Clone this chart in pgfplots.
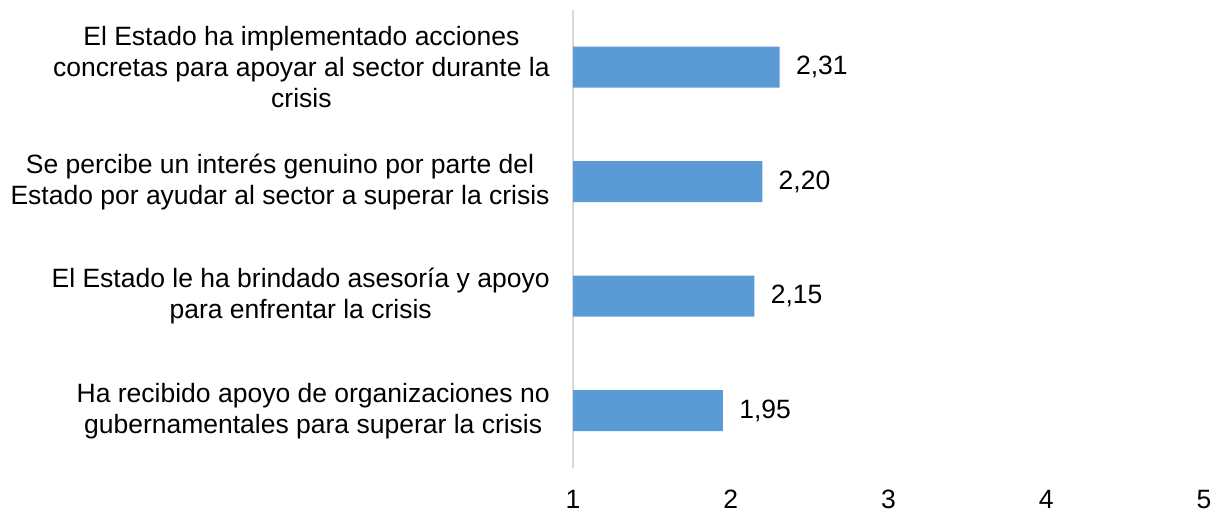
\documentclass[border=0pt]{standalone}
\usepackage{fontspec}
\setmainfont{Liberation Sans}
\usepackage{pgfplots}
\pgfplotsset{compat=1.18}
\definecolor{barblue}{HTML}{5B9BD5}
\definecolor{axgray}{HTML}{D9D9D9}
\begin{document}
\fontsize{13.25}{15.5}\selectfont
\begin{tikzpicture}
\begin{axis}[
  at={(286.5pt,22pt)}, anchor=south west,
  width=315.5pt, height=229pt, scale only axis,
  xbar, bar width=20.5pt,
  xmin=1, xmax=5, ymin=-0.5, ymax=3.5,
  xtick={1,2,3,4,5}, ytick={0,1,2,3},
  yticklabels={{Ha recibido apoyo de organizaciones no\\gubernamentales para superar la crisis},
               {El Estado le ha brindado asesoría y apoyo\\para enfrentar la crisis},
               {Se percibe un interés genuino por parte del\\Estado por ayudar al sector a superar la crisis},
               {El Estado ha implementado acciones\\concretas para apoyar al sector durante la\\crisis}},
  axis lines*=left,
  x axis line style={draw=none},
  y axis line style={draw=axgray, line width=1pt},
  major tick length=0pt,
  tick style={draw=none},
  xticklabel style={anchor=north, inner sep=0pt, yshift=-11pt},
  yticklabel style={align=center, anchor=east, inner sep=0pt, xshift=-11.5pt},
  /pgf/number format/assume math mode=true,
  point meta=x,
  nodes near coords={\pgfmathprintnumber[fixed,fixed zerofill,precision=2,use comma,assume math mode=true]{\pgfplotspointmeta}},
  nodes near coords style={anchor=west, inner sep=0pt, xshift=8pt, text=black},
]
\addplot[fill=barblue, draw=none] coordinates {(1.95,0) (2.15,1) (2.20,2) (2.31,3)};
\end{axis}
\pgfresetboundingbox
\path (0,0) rectangle (609pt,256pt);
\end{tikzpicture}
\end{document}
